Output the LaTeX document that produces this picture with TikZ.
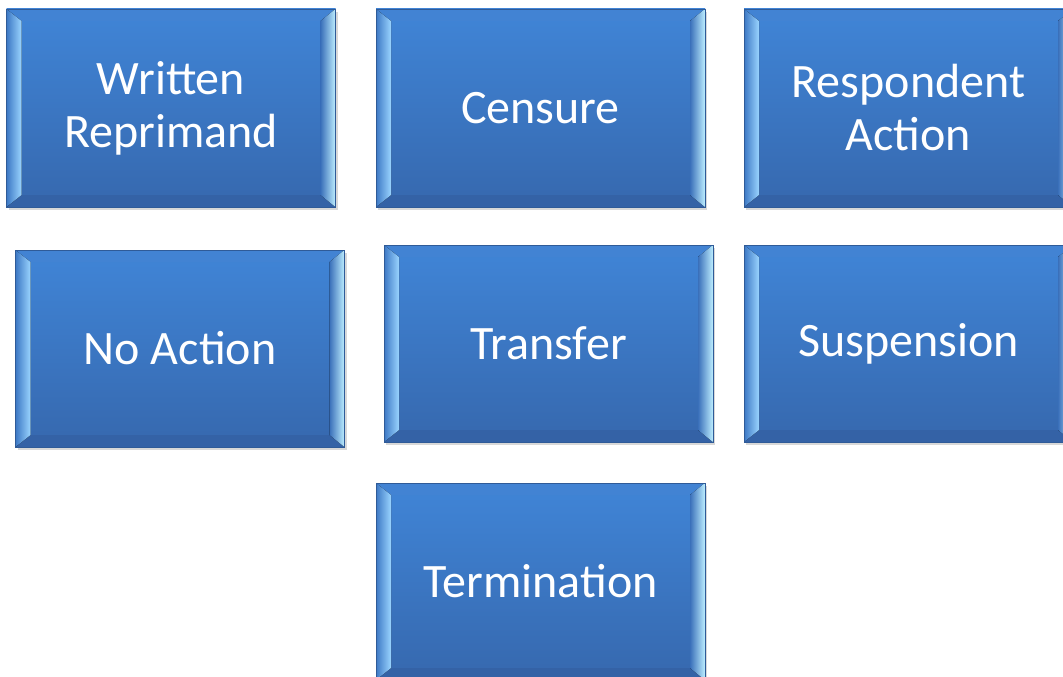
\documentclass[tikz,border=0pt]{standalone}
\usepackage{fontspec}
\setmainfont{Carlito}
\usetikzlibrary{shadows}
\definecolor{bodytop}{HTML}{4085D7}
\definecolor{bodybot}{HTML}{3668AE}
\definecolor{boxedge}{HTML}{2F5B98}
\definecolor{toplite}{HTML}{4283D3}
\definecolor{botdark}{HTML}{3462A6}
\definecolor{lbevA}{HTML}{3C78C4}
\definecolor{lbevB}{HTML}{9AD4FF}
\definecolor{rbevA}{HTML}{3A70BA}
\definecolor{rbevB}{HTML}{BDEEFF}
\tikzset{
  bevbox/.style={rectangle, minimum width=329pt, minimum height=198pt, inner sep=0pt,
    draw=boxedge, line width=0.7pt, top color=bodytop, bottom color=bodybot,
    text=white, align=center, font=\fontsize{48}{53}\selectfont,
    drop shadow={opacity=0.3, shadow xshift=2pt, shadow yshift=-3pt},
    path picture={
      \path (path picture bounding box.north west) coordinate (o1)
            (path picture bounding box.north east) coordinate (o2)
            (path picture bounding box.south east) coordinate (o3)
            (path picture bounding box.south west) coordinate (o4);
      \path ([xshift=15pt,yshift=-12pt]o1) coordinate (i1)
            ([xshift=-15pt,yshift=-12pt]o2) coordinate (i2)
            ([xshift=-15pt,yshift=12pt]o3) coordinate (i3)
            ([xshift=15pt,yshift=12pt]o4) coordinate (i4);
      \fill[toplite] (o1)--(o2)--(i2)--(i1)--cycle;
      \fill[botdark] (o4)--(o3)--(i3)--(i4)--cycle;
      \fill[left color=lbevA, right color=lbevB] (o1)--(i1)--(i4)--(o4)--cycle;
      \fill[left color=rbevA, right color=rbevB] (o2)--(i2)--(i3)--(o3)--cycle;
    }}
}
\begin{document}
\begin{tikzpicture}[x=1pt,y=-1pt]
\useasboundingbox (0,0) rectangle (1063,677);
\fill[white] (0,0) rectangle (1063,677);
\clip (0,0) rectangle (1063,677);
\node[bevbox] (wr) at (171,108) {Written\\Reprimand};
\node[bevbox] (cen) at (540.5,108) {Censure};
\node[bevbox] (ra) at (908.5,108) {Respondent\\Action};
\node[bevbox, minimum height=197pt] (na) at (180,348.5) {No Action};
\node[bevbox, minimum height=197pt] (tr) at (548.5,343.5) {Transfer};
\node[bevbox, minimum height=197pt] (su) at (908.5,343.5) {Suspension};
\node[bevbox, minimum height=197pt] (te) at (540.5,581.5) {Termination};
\end{tikzpicture}
\end{document}
